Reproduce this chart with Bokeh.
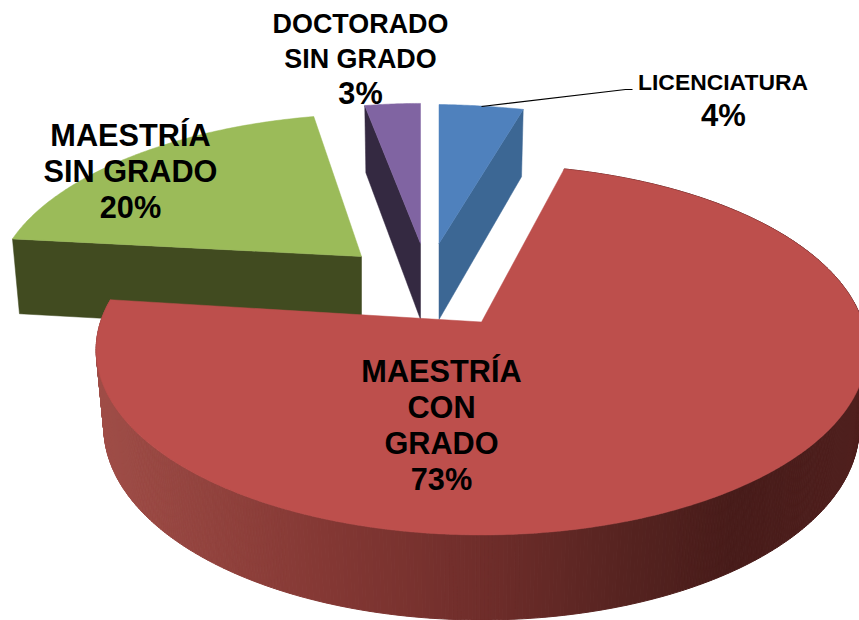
import numpy as np
from bokeh.plotting import figure
from bokeh.models import Range1d
from bokeh.embed import file_html
from bokeh.resources import INLINE
from bokeh.core.properties import value

categories = ["LICENCIATURA", "MAESTRÍA CON GRADO", "MAESTRÍA SIN GRADO", "DOCTORADO SIN GRADO"]
values = [4, 73, 20, 3]
top_colors = ["#4f81bd", "#bd4f4c", "#9bbb59", "#8064a2"]
side_colors = ["#3c6794", None, "#414b20", "#342941"]

# projection of the pie plate: half-axes, perspective, extrusion
B, A, P = 381.0, 181.0, 0.15
DEPTH, DEPTH_V, SHRINK = 76.0, 9.0, 0.98
# per-slice exploded apex and affine correction (a, b, c, d)
apex = [(438.5, 243.0), (481.0, 321.5), (361.0, 256.0), (420.0, 243.0)]
affine = [(1.018, 0.0, 0.013, 0.883), (1, 0, 0, 1), (0.945, -0.0714, -0.0069, 0.906), (0.896, 0.0, 0.0, 0.89)]

total = sum(values)
edges = np.concatenate([[0.0], np.cumsum(values)]) / total * 360.0


def project(i, deg):
    """Top and bottom rim points of slice i at pie angle deg (clockwise from the back)."""
    th = np.radians(np.asarray(deg, dtype=float))
    u, v = np.sin(th), -np.cos(th)
    s = 1.0 / (1.0 - P * v)
    X, Y = B * u * s, A * v * s
    a, b, c, d = affine[i]
    dx, dy = a * X + b * Y, c * X + d * Y
    ax, ay = apex[i]
    return ax + dx, ay + dy, ax + SHRINK * dx, ay + dy + DEPTH + DEPTH_V * v


p = figure(width=859, height=620, x_range=Range1d(0, 859), y_range=Range1d(620, 0),
           toolbar_location=None, output_backend="svg", min_border=0,
           background_fill_color="white", border_fill_color="white", outline_line_color=None)
p.axis.visible = False
p.grid.visible = False


def draw_slice(i):
    t0, t1 = edges[i], edges[i + 1]
    ax, ay = apex[i]
    arc = np.linspace(t0, t1, max(int(t1 - t0) * 2, 12))
    xt, yt, xb, yb = project(i, arc)
    if i == 1:
        # gradient-shaded outer rim
        rim_x = [0, 100, 330, 480, 630, 730, 860]
        rim_r = [160, 160, 132, 112, 85, 72, 80]
        rim_g = [78, 78, 56, 46, 35, 28, 32]
        rim_b = [72, 72, 52, 43, 32, 26, 30]
        xs, ys, cols = [], [], []
        for k in range(len(arc) - 1):
            xs.append([xt[k], xt[k + 1], xb[k + 1], xb[k]])
            ys.append([yt[k], yt[k + 1], yb[k + 1], yb[k]])
            mx = (xb[k] + xb[k + 1]) / 2
            cols.append("#%02x%02x%02x" % (int(np.interp(mx, rim_x, rim_r)),
                                           int(np.interp(mx, rim_x, rim_g)),
                                           int(np.interp(mx, rim_x, rim_b))))
        p.patches(xs, ys, fill_color=cols, line_color=cols, line_width=1)
    else:
        # visible radial cut face
        j = 0 if i == 3 else (-1 if i == 0 else 0)
        face_x = [ax, xt[j], xb[j], ax]
        face_y = [ay, yt[j], yb[j], ay + DEPTH]
        p.patch(face_x, face_y, fill_color=side_colors[i], line_color=side_colors[i], line_width=0.5)
    p.patch(np.concatenate([[ax], xt]), np.concatenate([[ay], yt]),
            fill_color=top_colors[i], line_color=top_colors[i], line_width=0.5)


for idx in [2, 0, 3, 1]:
    draw_slice(idx)

# leader line of the smallest right-hand label
leader_x = [481, 625, 632]
leader_y = [106, 89, 89]
p.line(leader_x, leader_y, line_color="black", line_width=1.2)

label_lines = [
    (["LICENCIATURA"], 722.5, [89], 22.9),
    (["4%"], 723, [125], 31),
    (["MAESTRÍA", "CON", "GRADO", "73%"], 441, [381, 417, 453, 489], 30.7),
    (["MAESTRÍA", "SIN GRADO", "20%"], 130, [145, 181, 217], 30.7),
    (["DOCTORADO", "SIN GRADO"], 360, [32, 67], 26.9),
    (["3%"], 360, [103], 30.7),
]
for lines, x, baselines, size in label_lines:
    p.text([x] * len(lines), [b - 0.33 * size for b in baselines], text=lines, text_align="center",
           text_baseline="alphabetic",
           text_font=value("Liberation Sans"), text_font_style="bold",
           text_font_size=f"{size}px", text_color="black")

open("out.html", "w").write(file_html(p, INLINE))
